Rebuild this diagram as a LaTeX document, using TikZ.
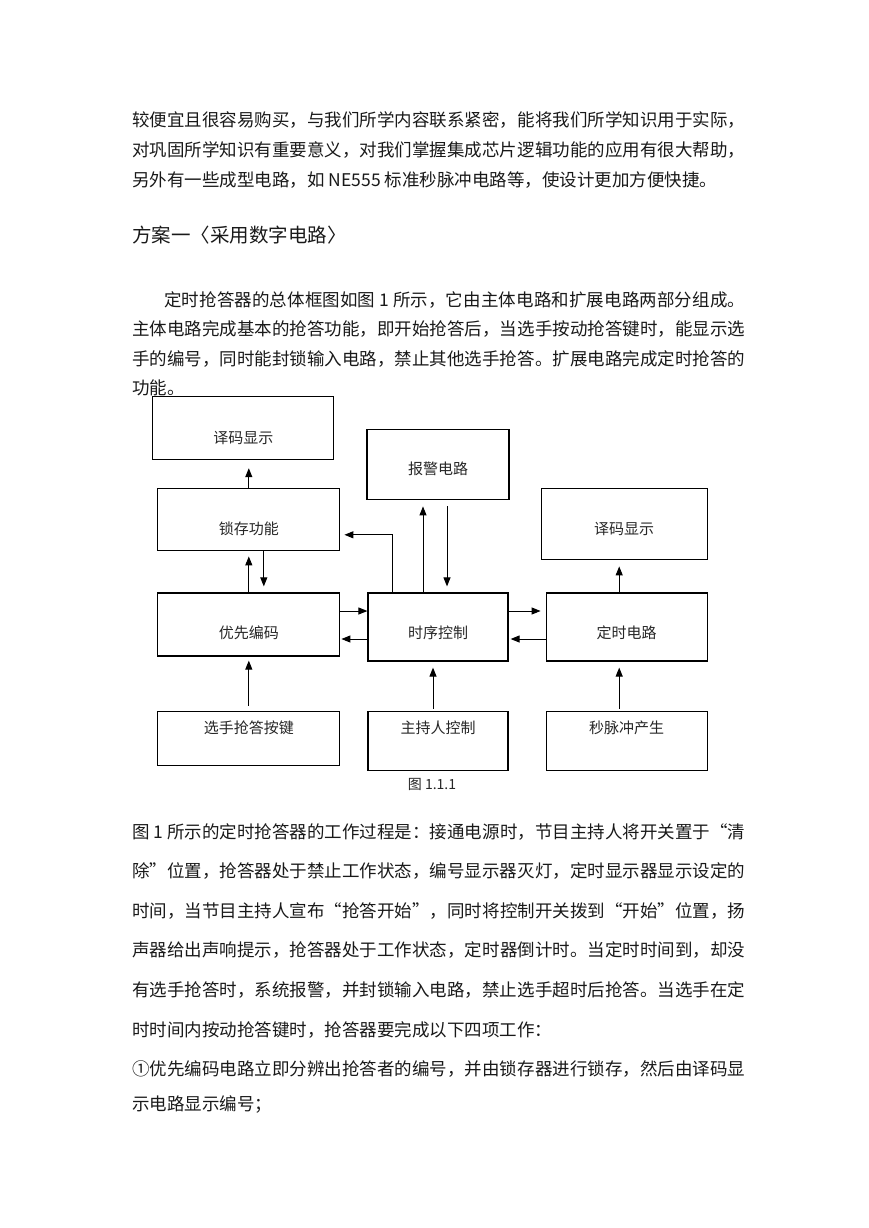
\documentclass[tikz,border=0pt]{standalone}
\usepackage{fontspec}
\setmainfont{Noto Sans CJK SC}
\usepackage{tikz}
\usetikzlibrary{arrows.meta, positioning}
\XeTeXlinebreaklocale "zh"
\XeTeXlinebreakskip=0pt plus 2pt

\begin{document}
\begin{tikzpicture}[x=1pt, y=-1pt, node distance=30pt, arrow/.style={-{Triangle[length=9pt, width=7pt]}, line width=1pt}]
\tikzstyle{block} = [rectangle, draw, line width=1.2pt, inner sep=0pt, text=black!85, font=\fontsize{15pt}{18pt}\selectfont]
\tikzstyle{textlow} = [text height=#1, text depth=0pt]
\tikzstyle{texthigh} = [text height=0pt, text depth=#1]
\tikzstyle{para} = [anchor=north west, inner sep=0pt, text width=613pt, align=justify, text=black!90]
\useasboundingbox (0,0) rectangle (869,1228);
\node[para, font=\fontsize{17.5pt}{30pt}\selectfont] (intro) at (132,111) {较便宜且很容易购买，与我们所学内容联系紧密，能将我们所学知识用于实际，\linebreak
对巩固所学知识有重要意义，对我们掌握集成芯片逻辑功能的应用有很大帮助，\linebreak
另外有一些成型电路，如 NE555 标准秒脉冲电路等，使设计更加方便快捷。};
\node[anchor=north west, inner sep=0pt, text=black!90, font=\fontsize{19.5pt}{22pt}\selectfont] (title) at (132,226) {方案一〈采用数字电路〉};
\node[para, font=\fontsize{17.5pt}{29.5pt}\selectfont] (overview) at (132,291) {\hspace*{32pt}定时抢答器的总体框图如图 1 所示，它由主体电路和扩展电路两部分组成。\linebreak
主体电路完成基本的抢答功能，即开始抢答后，当选手按动抢答键时，能显示选\linebreak
手的编号，同时能封锁输入电路，禁止其他选手抢答。扩展电路完成定时抢答的\linebreak
功能。};
\node[block, minimum width=140, minimum height=68, textlow=23.4pt] (seq) at (438,627) {时序控制};
\node[block, minimum width=182, minimum height=63, textlow=28.4pt, left=27pt of seq, yshift=2.5pt] (prio) {优先编码};
\node[block, minimum width=161, minimum height=68, textlow=23.4pt, right=37pt of seq] (timer) {定时电路};
\node[block, minimum width=182, minimum height=54, texthigh=8.6pt, below=54pt of prio] (keys) {选手抢答按键};
\node[block, minimum width=140, minimum height=59, texthigh=13.6pt, below=49pt of seq] (host) {主持人控制};
\node[block, minimum width=161, minimum height=59, texthigh=13.6pt, below=49pt of timer] (pulse) {秒脉冲产生};
\node[block, minimum width=182, minimum height=62, textlow=29.4pt, above=41pt of prio] (latch) {锁存功能};
\node[block, minimum width=181, minimum height=63, textlow=30.4pt, above=28pt of latch, xshift=-5.5pt] (decL) {译码显示};
\node[block, minimum width=142, minimum height=70, textlow=19.4pt, above=92pt of seq] (alarm) {报警电路};
\node[block, minimum width=166, minimum height=71, textlow=20.4pt, above=32pt of timer, xshift=-2.5pt] (decR) {译码显示};
\node[below=4pt of host, xshift=-6pt, text=black!85, font=\fontsize{14pt}{16pt}\selectfont] (cap) {图 1.1.1};
\draw[arrow, shorten >=8pt] (latch) -- (latch |- decL.south);
\draw[arrow, shorten >=5pt] (prio) -- (latch);
\draw[arrow, shorten >=6pt] ([xshift=15pt]latch.south) -- ([xshift=15pt]prio.north);
\draw[arrow, shorten >=4pt] ([xshift=-46pt]seq.north) |- ([yshift=-15pt]latch.east);
\draw[arrow, shorten >=6pt] ([xshift=-15pt]seq.north) -- ([xshift=-15pt]alarm.south);
\draw[arrow, shorten <=6pt, shorten >=6pt] ([xshift=9pt]alarm.south) -- ([xshift=9pt]seq.north);
\draw[arrow] ([yshift=13.5pt]prio.east) -- ([yshift=16pt]seq.west);
\draw[arrow, shorten >=1pt] ([yshift=-12pt]seq.west) -- ([yshift=-14.5pt]prio.east);
\draw[arrow, shorten >=5pt] ([yshift=16pt]seq.east) -- ([yshift=16pt]timer.west);
\draw[arrow, shorten >=2pt] ([yshift=-12pt]timer.west) -- ([yshift=-12pt]seq.east);
\draw[arrow, shorten >=6pt] ([xshift=-7.5pt]timer.north) -- ([xshift=-5pt]decR.south);
\draw[arrow, shorten <=5pt, shorten >=4pt] (keys) -- (prio);
\draw[arrow, shorten <=2pt, shorten >=6pt] ([xshift=-5pt]host.north) -- ([xshift=-5pt]seq.south);
\draw[arrow, shorten <=2pt, shorten >=6pt] ([xshift=-7.5pt]pulse.north) -- ([xshift=-7.5pt]timer.south);
\node[para, font=\fontsize{17.5pt}{39.6pt}\selectfont] (process) at (132,823) {图 1 所示的定时抢答器的工作过程是：接通电源时，节目主持人将开关置于“清\linebreak
除”位置，抢答器处于禁止工作状态，编号显示器灭灯，定时显示器显示设定的\linebreak
时间，当节目主持人宣布“抢答开始”，同时将控制开关拨到“开始”位置，扬\linebreak
声器给出声响提示，抢答器处于工作状态，定时器倒计时。当定时时间到，却没\linebreak
有选手抢答时，系统报警，并封锁输入电路，禁止选手超时后抢答。当选手在定\linebreak
时时间内按动抢答键时，抢答器要完成以下四项工作：};
\node[para, font=\fontsize{17.5pt}{35pt}\selectfont] (task) at (132,1060) {①优先编码电路立即分辨出抢答者的编号，并由锁存器进行锁存，然后由译码显\linebreak
示电路显示编号；};
\end{tikzpicture}
\end{document}
